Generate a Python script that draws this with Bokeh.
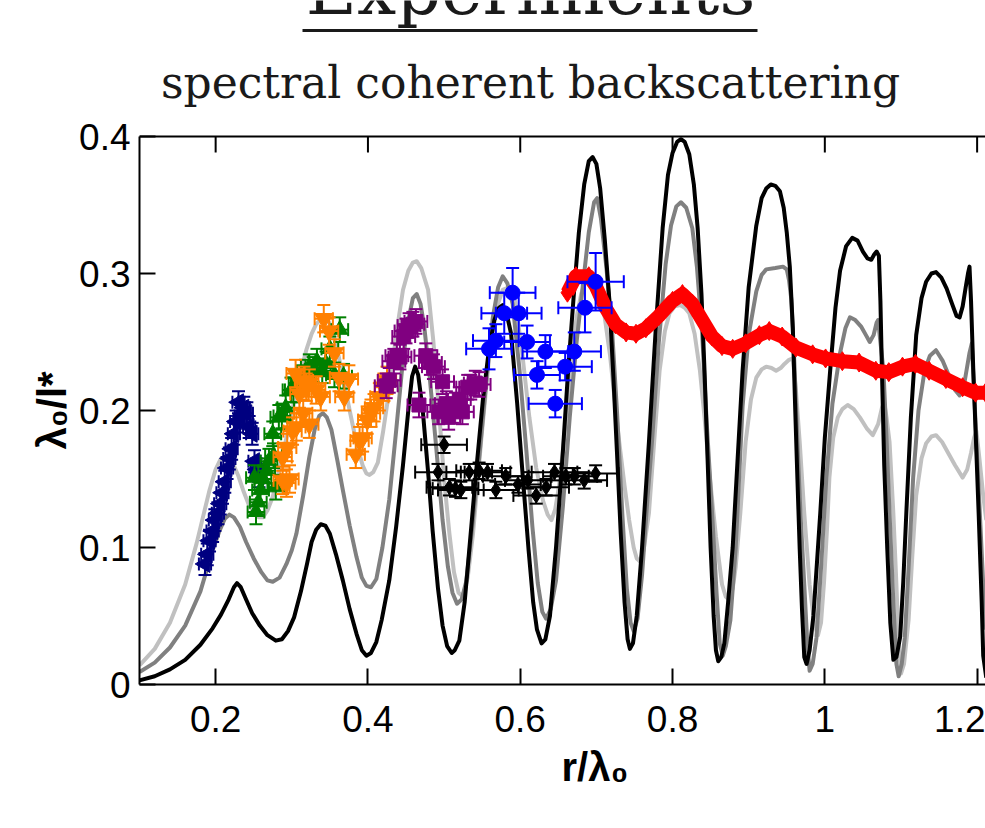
import math
from bokeh.plotting import figure
from bokeh.models import Range1d, FixedTicker, CustomJSTickFormatter, Title
from bokeh.embed import file_html
from bokeh.resources import INLINE
from bokeh.core.properties import value

# ---------------- data ----------------
x_ticks = [0.2, 0.4, 0.6, 0.8, 1.0, 1.2]
y_ticks = [0.0, 0.1, 0.2, 0.3, 0.4]

title_text = "Experiments"
subtitle_text = "spectral coherent backscattering"
x_label = "r/λ₀"
y_label = "λ₀/l*"

black_x = [0.100, 0.120, 0.140, 0.160, 0.180, 0.196, 0.207, 0.217, 0.224, 0.228, 0.233, 0.240, 0.248,
           0.258, 0.268, 0.279, 0.287, 0.295, 0.303, 0.312, 0.320, 0.326, 0.332, 0.338, 0.344, 0.350,
           0.358, 0.367, 0.376, 0.385, 0.392, 0.398, 0.404, 0.411, 0.418, 0.428, 0.437, 0.446, 0.453,
           0.458, 0.462, 0.466, 0.472, 0.479, 0.485, 0.492, 0.498, 0.504, 0.510, 0.514, 0.520, 0.527,
           0.533, 0.542, 0.551, 0.559, 0.566, 0.572, 0.577, 0.582, 0.588, 0.596, 0.604, 0.611, 0.617,
           0.622, 0.628, 0.633, 0.639, 0.647, 0.656, 0.663, 0.670, 0.677, 0.684, 0.690, 0.695, 0.700,
           0.705, 0.711, 0.717, 0.722, 0.727, 0.732, 0.737, 0.741, 0.744, 0.748, 0.753, 0.760, 0.769,
           0.778, 0.787, 0.794, 0.800, 0.806, 0.811, 0.816, 0.822, 0.828, 0.833, 0.838, 0.842, 0.846,
           0.850, 0.854, 0.857, 0.860, 0.864, 0.868, 0.873, 0.879, 0.885, 0.892, 0.900, 0.910, 0.917,
           0.923, 0.929, 0.935, 0.941, 0.946, 0.950, 0.954, 0.958, 0.961, 0.964, 0.967, 0.970, 0.973,
           0.976, 0.980, 0.985, 0.994, 1.000, 1.007, 1.014, 1.020, 1.028, 1.036, 1.043, 1.050, 1.056,
           1.061, 1.065, 1.068, 1.071, 1.073, 1.075, 1.078, 1.082, 1.086, 1.090, 1.094, 1.099, 1.103,
           1.107, 1.113, 1.120, 1.127, 1.133, 1.140, 1.146, 1.153, 1.160, 1.167, 1.173, 1.177, 1.181,
           1.185, 1.188, 1.190, 1.192, 1.195, 1.199, 1.202, 1.206, 1.208, 1.212]
black_y = [0.003, 0.006, 0.011, 0.018, 0.029, 0.041, 0.051, 0.062, 0.071, 0.074, 0.071, 0.062, 0.052,
           0.043, 0.036, 0.032, 0.033, 0.039, 0.049, 0.068, 0.088, 0.104, 0.113, 0.117, 0.116, 0.110,
           0.095, 0.076, 0.055, 0.037, 0.025, 0.021, 0.023, 0.031, 0.047, 0.076, 0.115, 0.160, 0.200,
           0.225, 0.232, 0.226, 0.200, 0.155, 0.112, 0.070, 0.043, 0.028, 0.023, 0.025, 0.032, 0.060,
           0.098, 0.155, 0.208, 0.245, 0.266, 0.275, 0.277, 0.271, 0.256, 0.205, 0.147, 0.098, 0.060,
           0.040, 0.030, 0.033, 0.050, 0.100, 0.170, 0.230, 0.282, 0.330, 0.365, 0.382, 0.385, 0.380,
           0.362, 0.325, 0.281, 0.228, 0.170, 0.110, 0.060, 0.033, 0.026, 0.030, 0.050, 0.100, 0.177,
           0.260, 0.333, 0.372, 0.388, 0.396, 0.398, 0.396, 0.387, 0.365, 0.333, 0.285, 0.229, 0.165,
           0.100, 0.050, 0.025, 0.017, 0.020, 0.030, 0.060, 0.100, 0.160, 0.229, 0.290, 0.335, 0.355,
           0.362, 0.365, 0.364, 0.360, 0.348, 0.330, 0.305, 0.260, 0.203, 0.150, 0.099, 0.055, 0.020,
           0.015, 0.025, 0.050, 0.125, 0.180, 0.229, 0.275, 0.302, 0.320, 0.326, 0.324, 0.316, 0.311,
           0.310, 0.314, 0.316, 0.313, 0.280, 0.229, 0.160, 0.099, 0.045, 0.018, 0.020, 0.035, 0.075,
           0.125, 0.195, 0.255, 0.282, 0.294, 0.300, 0.301, 0.297, 0.289, 0.278, 0.269, 0.268, 0.276,
           0.290, 0.300, 0.305, 0.280, 0.229, 0.170, 0.125, 0.060, 0.021, 0.005]

gray_x = [0.100, 0.120, 0.140, 0.160, 0.180, 0.196, 0.205, 0.212, 0.218, 0.224, 0.232, 0.240, 0.250,
          0.260, 0.268, 0.275, 0.284, 0.293, 0.300, 0.306, 0.315, 0.323, 0.330, 0.336, 0.341, 0.346,
          0.352, 0.360, 0.367, 0.376, 0.385, 0.392, 0.398, 0.404, 0.411, 0.419, 0.428, 0.437, 0.446,
          0.453, 0.459, 0.464, 0.469, 0.474, 0.481, 0.490, 0.498, 0.505, 0.511, 0.517, 0.523, 0.529,
          0.537, 0.547, 0.556, 0.564, 0.571, 0.577, 0.583, 0.590, 0.599, 0.608, 0.616, 0.623, 0.629,
          0.634, 0.640, 0.647, 0.656, 0.665, 0.674, 0.682, 0.690, 0.697, 0.701, 0.706, 0.713, 0.721,
          0.727, 0.734, 0.740, 0.745, 0.749, 0.754, 0.760, 0.767, 0.773, 0.782, 0.791, 0.798, 0.805,
          0.811, 0.818, 0.826, 0.832, 0.839, 0.845, 0.852, 0.858, 0.862, 0.866, 0.870, 0.876, 0.883,
          0.892, 0.900, 0.910, 0.917, 0.923, 0.935, 0.945, 0.950, 0.953, 0.956, 0.960, 0.964, 0.968,
          0.973, 0.977, 0.980, 0.984, 0.989, 0.995, 1.002, 1.010, 1.020, 1.027, 1.033, 1.040, 1.048,
          1.054, 1.059, 1.064, 1.068, 1.070, 1.073, 1.077, 1.081, 1.085, 1.090, 1.094, 1.097, 1.101,
          1.105, 1.110, 1.116, 1.123, 1.131, 1.138, 1.146, 1.155, 1.164, 1.171, 1.177, 1.182, 1.186,
          1.190, 1.193, 1.196, 1.199, 1.204, 1.208, 1.212]
gray_y = [0.009, 0.016, 0.027, 0.043, 0.068, 0.098, 0.112, 0.121, 0.124, 0.122, 0.115, 0.104, 0.092,
          0.082, 0.076, 0.075, 0.078, 0.088, 0.098, 0.110, 0.138, 0.166, 0.186, 0.196, 0.198, 0.195,
          0.186, 0.163, 0.142, 0.116, 0.093, 0.078, 0.072, 0.071, 0.077, 0.100, 0.135, 0.185, 0.237,
          0.266, 0.282, 0.285, 0.278, 0.261, 0.225, 0.171, 0.120, 0.086, 0.067, 0.059, 0.062, 0.075,
          0.115, 0.171, 0.225, 0.268, 0.290, 0.298, 0.293, 0.278, 0.230, 0.171, 0.115, 0.074, 0.053,
          0.048, 0.055, 0.076, 0.130, 0.195, 0.250, 0.290, 0.330, 0.352, 0.355, 0.340, 0.305, 0.255,
          0.200, 0.125, 0.070, 0.045, 0.039, 0.048, 0.080, 0.135, 0.177, 0.250, 0.307, 0.335, 0.349,
          0.352, 0.348, 0.333, 0.305, 0.255, 0.190, 0.125, 0.065, 0.030, 0.021, 0.028, 0.047, 0.100,
          0.203, 0.255, 0.287, 0.299, 0.303, 0.304, 0.305, 0.303, 0.295, 0.281, 0.235, 0.177, 0.125,
          0.073, 0.030, 0.010, 0.015, 0.034, 0.085, 0.151, 0.205, 0.242, 0.260, 0.268, 0.266, 0.261,
          0.255, 0.250, 0.255, 0.264, 0.266, 0.250, 0.229, 0.180, 0.125, 0.060, 0.015, 0.006, 0.015,
          0.034, 0.085, 0.151, 0.200, 0.229, 0.240, 0.244, 0.236, 0.224, 0.215, 0.211, 0.216, 0.229,
          0.242, 0.249, 0.215, 0.177, 0.120, 0.073, 0.040]

light_x = [0.100, 0.120, 0.140, 0.160, 0.175, 0.185, 0.192, 0.200, 0.207, 0.214, 0.223, 0.230, 0.236,
           0.243, 0.250, 0.257, 0.262, 0.268, 0.275, 0.285, 0.297, 0.308, 0.319, 0.326, 0.332, 0.339,
           0.345, 0.351, 0.358, 0.367, 0.376, 0.385, 0.393, 0.398, 0.402, 0.407, 0.413, 0.420, 0.428,
           0.437, 0.446, 0.453, 0.459, 0.464, 0.470, 0.479, 0.486, 0.494, 0.500, 0.507, 0.513, 0.519,
           0.525, 0.531, 0.538, 0.549, 0.560, 0.569, 0.577, 0.585, 0.593, 0.602, 0.612, 0.621, 0.630,
           0.636, 0.641, 0.646, 0.651, 0.656, 0.662, 0.668, 0.674, 0.680, 0.687, 0.693, 0.699, 0.705,
           0.711, 0.718, 0.724, 0.730, 0.737, 0.743, 0.749, 0.753, 0.757, 0.762, 0.769, 0.776, 0.783,
           0.790, 0.796, 0.803, 0.810, 0.816, 0.822, 0.829, 0.836, 0.842, 0.849, 0.857, 0.865, 0.870,
           0.874, 0.879, 0.883, 0.889, 0.896, 0.903, 0.910, 0.917, 0.923, 0.930, 0.936, 0.942, 0.947,
           0.953, 0.958, 0.962, 0.967, 0.973, 0.980, 0.986, 0.991, 0.995, 0.999, 1.003, 1.006, 1.011,
           1.017, 1.023, 1.030, 1.038, 1.046, 1.055, 1.063, 1.070, 1.075, 1.078, 1.081, 1.085, 1.090,
           1.094, 1.097, 1.100, 1.104, 1.110, 1.115, 1.120, 1.127, 1.133, 1.140, 1.146, 1.154, 1.162,
           1.171, 1.181, 1.187, 1.192, 1.196, 1.199, 1.203, 1.208, 1.212]
light_y = [0.014, 0.026, 0.045, 0.073, 0.103, 0.126, 0.142, 0.157, 0.165, 0.166, 0.161, 0.152, 0.142,
           0.132, 0.125, 0.122, 0.122, 0.127, 0.137, 0.160, 0.190, 0.220, 0.244, 0.256, 0.263, 0.267,
           0.268, 0.262, 0.249, 0.225, 0.200, 0.176, 0.160, 0.154, 0.153, 0.155, 0.162, 0.185, 0.215,
           0.255, 0.288, 0.302, 0.308, 0.309, 0.304, 0.288, 0.250, 0.195, 0.150, 0.110, 0.082, 0.067,
           0.064, 0.078, 0.110, 0.180, 0.244, 0.275, 0.288, 0.290, 0.280, 0.245, 0.195, 0.158, 0.134,
           0.124, 0.120, 0.128, 0.145, 0.171, 0.205, 0.240, 0.268, 0.285, 0.297, 0.300, 0.298, 0.290,
           0.268, 0.240, 0.208, 0.177, 0.145, 0.120, 0.100, 0.092, 0.090, 0.098, 0.125, 0.178, 0.229,
           0.258, 0.271, 0.276, 0.277, 0.275, 0.271, 0.256, 0.229, 0.195, 0.151, 0.108, 0.073, 0.064,
           0.062, 0.070, 0.086, 0.125, 0.177, 0.208, 0.224, 0.230, 0.232, 0.231, 0.229, 0.231, 0.234,
           0.237, 0.238, 0.215, 0.177, 0.125, 0.073, 0.045, 0.036, 0.045, 0.075, 0.115, 0.151, 0.180,
           0.195, 0.201, 0.204, 0.201, 0.195, 0.187, 0.182, 0.190, 0.202, 0.206, 0.195, 0.177, 0.125,
           0.073, 0.030, 0.008, 0.015, 0.047, 0.095, 0.138, 0.165, 0.176, 0.181, 0.182, 0.177, 0.169,
           0.160, 0.151, 0.157, 0.169, 0.180, 0.185, 0.165, 0.138, 0.120]

red_x = [0.662, 0.673, 0.690, 0.699, 0.712, 0.725, 0.739, 0.752, 0.765, 0.782, 0.800, 0.813, 0.826,
         0.839, 0.852, 0.865, 0.879, 0.896, 0.914, 0.927, 0.944, 0.962, 0.984, 1.001, 1.023, 1.045,
         1.067, 1.084, 1.102, 1.119, 1.137, 1.159, 1.181, 1.198, 1.211]
red_y = [0.286, 0.298, 0.298, 0.291, 0.275, 0.263, 0.257, 0.256, 0.260, 0.269, 0.280, 0.285, 0.278,
         0.266, 0.254, 0.247, 0.245, 0.249, 0.255, 0.258, 0.254, 0.246, 0.241, 0.238, 0.236, 0.235,
         0.229, 0.228, 0.232, 0.234, 0.229, 0.223, 0.217, 0.213, 0.213]

navy_x = [0.186, 0.189, 0.192, 0.196, 0.199, 0.203, 0.206, 0.209, 0.212, 0.215, 0.218, 0.221, 0.224,
          0.227, 0.230, 0.233, 0.237, 0.241, 0.244, 0.248, 0.251, 0.254, 0.257]
navy_y = [0.088, 0.095, 0.105, 0.112, 0.120, 0.125, 0.132, 0.140, 0.148, 0.158, 0.165, 0.172, 0.183,
          0.192, 0.206, 0.196, 0.202, 0.198, 0.188, 0.183, 0.163, 0.157, 0.152]
navy_xerr = 0.008
navy_yerr = 0.008

green_x = [0.253, 0.256, 0.259, 0.251, 0.262, 0.267, 0.270, 0.276, 0.279, 0.275, 0.283, 0.287, 0.292,
           0.299, 0.302, 0.307, 0.313, 0.318, 0.323, 0.328, 0.333, 0.340, 0.345, 0.350, 0.356, 0.363,
           0.368]
green_y = [0.126, 0.133, 0.142, 0.151, 0.150, 0.156, 0.163, 0.167, 0.144, 0.183, 0.195, 0.196, 0.202,
           0.215, 0.215, 0.220, 0.224, 0.228, 0.232, 0.230, 0.236, 0.229, 0.234, 0.245, 0.226, 0.259,
           0.225]
green_xerr = 0.011
green_yerr = 0.009

orange_x = [0.288, 0.293, 0.297, 0.288, 0.294, 0.301, 0.306, 0.315, 0.323, 0.305, 0.310, 0.316, 0.319,
            0.323, 0.332, 0.338, 0.342, 0.349, 0.356, 0.362, 0.369, 0.375, 0.384, 0.389, 0.393, 0.399,
            0.404, 0.408, 0.415, 0.421, 0.425]
orange_y = [0.149, 0.147, 0.150, 0.166, 0.173, 0.185, 0.188, 0.198, 0.190, 0.227, 0.212, 0.222, 0.217,
            0.220, 0.215, 0.210, 0.267, 0.258, 0.242, 0.224, 0.210, 0.223, 0.168, 0.178, 0.180, 0.193,
            0.198, 0.202, 0.210, 0.217, 0.222]
orange_xerr = 0.012
orange_yerr = 0.010

purple_x = [0.424, 0.428, 0.434, 0.438, 0.442, 0.447, 0.450, 0.454, 0.459, 0.463, 0.467, 0.476, 0.482,
            0.486, 0.493, 0.498, 0.503, 0.506, 0.511, 0.515, 0.520, 0.524, 0.531, 0.535, 0.541, 0.546]
purple_y = [0.218, 0.222, 0.236, 0.240, 0.239, 0.254, 0.258, 0.262, 0.263, 0.265, 0.204, 0.240, 0.235,
            0.232, 0.199, 0.221, 0.205, 0.195, 0.200, 0.204, 0.208, 0.199, 0.217, 0.217, 0.220, 0.219]
purple_xerr = 0.015
purple_yerr = 0.009

blue_x = [0.559, 0.568, 0.579, 0.590, 0.598, 0.609, 0.622, 0.633, 0.646, 0.659, 0.671, 0.685, 0.699]
blue_y = [0.245, 0.251, 0.271, 0.286, 0.271, 0.250, 0.226, 0.243, 0.205, 0.232, 0.243, 0.275, 0.294]
blue_xerr = [0.030, 0.030, 0.030, 0.030, 0.030, 0.030, 0.030, 0.030, 0.035, 0.035, 0.035, 0.035, 0.037]
blue_yerr = [0.015, 0.012, 0.015, 0.018, 0.015, 0.012, 0.010, 0.012, 0.010, 0.010, 0.014, 0.018, 0.021]

diam_x = [0.500, 0.492, 0.507, 0.515, 0.522, 0.533, 0.546, 0.557, 0.568, 0.581, 0.597, 0.610, 0.621,
          0.634, 0.645, 0.660, 0.671, 0.684, 0.699]
diam_y = [0.175, 0.155, 0.144, 0.143, 0.142, 0.155, 0.156, 0.155, 0.142, 0.152, 0.146, 0.149, 0.138,
          0.144, 0.155, 0.152, 0.152, 0.149, 0.154]
diam_xerr = 0.030
diam_yerr = 0.006

# ---------------- layout constants ----------------
W, H = 985, 828
FRAME_L, FRAME_B = 139, 684            # frame left / bottom edge in page pixels
X0, X1 = 0.1, 1.211
Y_AX = 0.4                              # top of the drawn axes box
PX_PER_Y = 1370.0                        # pixels per y unit
Y_TOP = FRAME_B / PX_PER_Y              # frame extends to the canvas top (header lives there)


def px_y(py):
    return (FRAME_B - py) / PX_PER_Y


def px_x(px):
    return X0 + (px - FRAME_L) / ((W - FRAME_L) / (X1 - X0))


p = figure(width=W, height=H, x_range=Range1d(X0, X1), y_range=Range1d(0, Y_TOP),
           output_backend="svg", toolbar_location=None,
           min_border_left=FRAME_L, min_border_right=0, min_border_top=0, min_border_bottom=H - FRAME_B)
p.outline_line_color = None
p.grid.visible = False

fmt = CustomJSTickFormatter(code="return (Math.abs(tick - Math.round(tick)) < 1e-9) ? tick.toFixed(0) : tick.toFixed(1);")
for ax in (p.xaxis[0], p.yaxis[0]):
    ax.major_tick_in = 16
    ax.major_tick_out = 0
    ax.minor_tick_line_color = None
    ax.axis_line_width = 2
    ax.major_tick_line_width = 2
    ax.major_label_text_font = "Liberation Sans"
    ax.major_label_text_font_size = "37px"
    ax.major_label_text_color = "black"
    ax.formatter = fmt
p.xaxis.ticker = FixedTicker(ticks=x_ticks)
p.yaxis.ticker = FixedTicker(ticks=y_ticks)
p.yaxis.bounds = (0, Y_AX)
p.xaxis.major_label_standoff = 21
p.yaxis.major_label_standoff = 9

# axis titles (as side titles so they can be shifted to match the reference)
p.add_layout(Title(text=x_label, align="left", offset=422, standoff=16,
                   text_font="Liberation Sans", text_font_style="bold", text_font_size="40px",
                   text_color="black"), "below")
p.add_layout(Title(text=y_label, align="left", offset=235, standoff=6,
                   text_font="Liberation Sans", text_font_style="bold", text_font_size="40px",
                   text_color="black"), "left")

# top edge of the box with inward ticks
p.line([X0, X1], [Y_AX, Y_AX], line_width=2, line_color="black")
tick_len = 16 / PX_PER_Y
p.segment(x0=x_ticks, y0=[Y_AX] * len(x_ticks), x1=x_ticks, y1=[Y_AX - tick_len] * len(x_ticks),
          line_width=2, line_color="black")

# header
p.text(x=[px_x(530)], y=[px_y(-11)], text=[title_text], text_font=value("DejaVu Serif"),
       text_font_size="70px", text_align="center", text_baseline="alphabetic", text_color="#1a1a1a")
p.line([px_x(302), px_x(757)], [px_y(30), px_y(30)], line_width=3, line_color="#1a1a1a")
p.text(x=[px_x(530)], y=[px_y(82)], text=[subtitle_text], text_font=value("DejaVu Serif"),
       text_font_size="44px", text_align="center", text_baseline="alphabetic", text_color="#1a1a1a")

# theory curves
p.line(light_x, light_y, line_width=4, line_color="#c0c0c0", line_join="round")
p.line(gray_x, gray_y, line_width=4, line_color="#808080", line_join="round")
p.line(black_x, black_y, line_width=4, line_color="black", line_join="round")

# red measured curve
p.line(red_x, red_y, line_width=14, line_color="red", line_join="round")
p.scatter(red_x, red_y, marker="diamond", size=19, color="red")


def series(xs, ys, xe, ye, color, marker, size, angle=0.0):
    n = len(xs)
    xe = xe if isinstance(xe, list) else [xe] * n
    ye = ye if isinstance(ye, list) else [ye] * n
    x0 = [a - b for a, b in zip(xs, xe)]
    x1 = [a + b for a, b in zip(xs, xe)]
    y0 = [a - b for a, b in zip(ys, ye)]
    y1 = [a + b for a, b in zip(ys, ye)]
    p.segment(x0, ys, x1, ys, line_width=2, line_color=color)
    p.segment(xs, y0, xs, y1, line_width=2, line_color=color)
    p.scatter(xs, y0, marker="dash", size=13, line_width=2, line_color=color)
    p.scatter(xs, y1, marker="dash", size=13, line_width=2, line_color=color)
    p.scatter(x0, ys, marker="dash", angle=math.pi / 2, size=13, line_width=2, line_color=color)
    p.scatter(x1, ys, marker="dash", angle=math.pi / 2, size=13, line_width=2, line_color=color)
    p.scatter(xs, ys, marker=marker, size=size, angle=angle, fill_color=color, line_color=color)


series(navy_x, navy_y, navy_xerr, navy_yerr, "#000080", "triangle", 17, angle=math.pi / 2)
series(green_x, green_y, green_xerr, green_yerr, "#008000", "triangle", 16)
series(orange_x, orange_y, orange_xerr, orange_yerr, "#ff8000", "inverted_triangle", 18)
series(purple_x, purple_y, purple_xerr, purple_yerr, "#800080", "square", 14)
series(blue_x, blue_y, blue_xerr, blue_yerr, "#0000ff", "circle", 15)
series(diam_x, diam_y, diam_xerr, diam_yerr, "black", "diamond", 15)

open("out.html", "w").write(file_html(p, INLINE))
